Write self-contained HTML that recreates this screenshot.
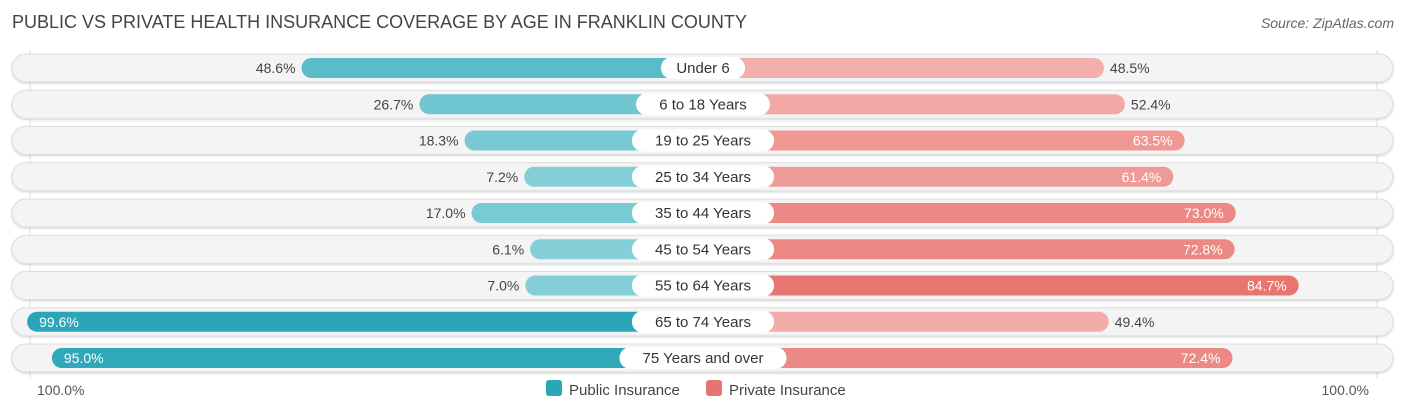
<!DOCTYPE html>
<html><head><meta charset="utf-8"><style>
body{margin:0;width:1406px;height:414px;background:#fff;font-family:"Liberation Sans",sans-serif;overflow:hidden}
</style></head><body>
<svg id="chart" width="1406" height="414" xmlns="http://www.w3.org/2000/svg">
<defs><filter id="sh" x="-5%" y="-50%" width="110%" height="200%"><feDropShadow dx="0" dy="1" stdDeviation="1" flood-color="#000" flood-opacity="0.18"/></filter></defs>
<text x="12" y="28" font-size="18" fill="#444">PUBLIC VS PRIVATE HEALTH INSURANCE COVERAGE BY AGE IN FRANKLIN COUNTY</text>
<text x="1394" y="28" font-size="14" fill="#666" font-style="italic" text-anchor="end">Source: ZipAtlas.com</text>
<line x1="30" y1="50" x2="30" y2="378" stroke="#ddd"/>
<line x1="1377" y1="50" x2="1377" y2="378" stroke="#ddd"/>
<g id="rows"></g>
<text x="37" y="395" font-size="14" fill="#555">100.0%</text>
<text x="1369" y="395" font-size="14" fill="#555" text-anchor="end">100.0%</text>
<g>
<rect x="546" y="380" width="16" height="16" rx="3" fill="#2aa6b8"/>
<text x="569" y="395" font-size="15" fill="#444">Public Insurance</text>
<rect x="706" y="380" width="16" height="16" rx="3" fill="#e8746f"/>
<text x="729" y="395" font-size="15" fill="#444">Private Insurance</text>
</g>
</svg>
<script>
const categories=["Under 6","6 to 18 Years","19 to 25 Years","25 to 34 Years","35 to 44 Years","45 to 54 Years","55 to 64 Years","65 to 74 Years","75 Years and over"];
const publicVals=[48.6,26.7,18.3,7.2,17.0,6.1,7.0,99.6,95.0];
const privateVals=[48.5,52.4,63.5,61.4,73.0,72.8,84.7,49.4,72.4];
const NS="http://www.w3.org/2000/svg";
const cx=703,base=140,k=5.38,y0=68,dy=36.25,bh=20;
function len(v){return base+v*k;}
function rowY(i){return y0+i*dy;}
function lerp(a,b,t){return a.map((x,j)=>Math.round(x+(b[j]-x)*t));}
function pubColor(v){const t=Math.max(0,Math.min(1,(v-5)/95));const c=lerp([133,207,216],[42,166,184],t);return `rgb(${c})`;}
function privColor(v){const t=Math.max(0,Math.min(1,(v-45)/40));const c=lerp([243,180,178],[232,118,112],t);return `rgb(${c})`;}
const g=document.getElementById('rows');
function mk(tag,attrs){const e=document.createElementNS(NS,tag);for(const a in attrs)e.setAttribute(a,attrs[a]);g.appendChild(e);return e;}
categories.forEach((cat,i)=>{
  const y=rowY(i);
  const bg=mk('rect',{x:12,y:y-14,width:1381,height:28,rx:14,fill:'#f4f4f4',stroke:'#dedede','stroke-width':1,filter:'url(#sh)'});
  
  
  const pv=publicVals[i],rv=privateVals[i];
  const pl=len(pv),rl=len(rv);
  const pb=mk('rect',{x:cx-pl,y:y-bh/2,width:pl,height:bh,rx:10,fill:pubColor(pv)});
  
  
  const rb=mk('rect',{x:cx,y:y-bh/2,width:rl,height:bh,rx:10,fill:privColor(rv)});
  
  
  const pin=pv>=60;
  const pt=mk('text',{x:pin?cx-pl+12:cx-pl-6,y:y+5,'font-size':14,fill:pin?'#fff':'#444','text-anchor':pin?'start':'end'});
  pt.textContent=pv.toFixed(1)+'%';
  
  
  const rin=rv>=60;
  const rt=mk('text',{x:rin?cx+rl-12:cx+rl+6,y:y+5,'font-size':14,fill:rin?'#fff':'#444','text-anchor':rin?'end':'start'});
  rt.textContent=rv.toFixed(1)+'%';
  
  
  const tw=cat.length*8.3+26;
  const lb=mk('rect',{x:cx-tw/2,y:y-11,width:tw,height:22,rx:11,fill:'#fff'});
  
  
  const lt=mk('text',{x:cx,y:y+5,'font-size':15,fill:'#333','text-anchor':'middle'});
  lt.textContent=cat;
  
  
});
</script>
</body></html>
